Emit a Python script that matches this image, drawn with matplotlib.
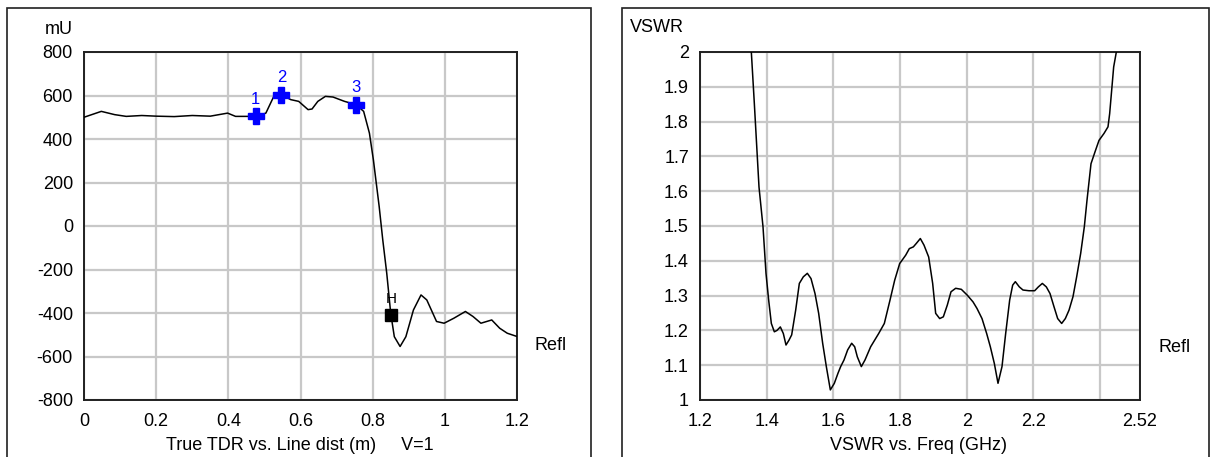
import matplotlib.pyplot as plt
import matplotlib.patches as mpatches
import numpy as np

plt.rcParams['font.family'] = ['Liberation Sans', 'DejaVu Sans']

# TDR trace (left panel)
tdr_x = [0.0, 0.048, 0.085, 0.117, 0.16, 0.2, 0.25, 0.3, 0.35, 0.398, 0.42, 0.476,
         0.504, 0.526, 0.547, 0.573, 0.595, 0.621, 0.632, 0.648, 0.669, 0.69, 0.722,
         0.754, 0.775, 0.791, 0.802, 0.818, 0.828, 0.839, 0.85, 0.86, 0.876, 0.892,
         0.913, 0.934, 0.95, 0.977, 0.998, 1.025, 1.057, 1.078, 1.1, 1.13, 1.152,
         1.173, 1.2]
tdr_y = [500, 527, 512, 504, 508, 505, 503, 508, 505, 519, 504, 504,
         519, 596, 604, 581, 573, 535, 538, 573, 596, 593, 573,
         558, 527, 427, 304, 90, -64, -217, -401, -509, -554, -509,
         -386, -317, -340, -439, -447, -424, -393, -416, -447, -432, -470,
         -493, -508]

# markers on the TDR trace
mk_labels = ['1', '2', '3']
mk_x = [0.476, 0.547, 0.754]
mk_y = [504, 604, 558]
h_x, h_y = 0.852, -409

# VSWR trace (right panel)
vswr_f = [1.354, 1.363, 1.377, 1.389, 1.398, 1.406, 1.414, 1.423, 1.431, 1.441, 1.45,
          1.458, 1.467, 1.475, 1.487, 1.498, 1.51, 1.522, 1.533, 1.545, 1.556, 1.568,
          1.579, 1.591, 1.603, 1.614, 1.622, 1.632, 1.643, 1.655, 1.664, 1.672, 1.684,
          1.695, 1.712, 1.736, 1.753, 1.77, 1.784, 1.799, 1.817, 1.828, 1.84, 1.849,
          1.861, 1.872, 1.886, 1.898, 1.907, 1.919, 1.93, 1.942, 1.953, 1.967, 1.984,
          2.002, 2.019, 2.031, 2.046, 2.06, 2.071, 2.083, 2.094, 2.106, 2.117, 2.129,
          2.138, 2.146, 2.158, 2.169, 2.187, 2.204, 2.215, 2.227, 2.239, 2.25, 2.262,
          2.273, 2.285, 2.296, 2.307, 2.319, 2.33, 2.342, 2.353, 2.361, 2.373, 2.385,
          2.397, 2.412, 2.424, 2.429, 2.435, 2.441, 2.449]
vswr = [2.0, 1.852, 1.612, 1.498, 1.364, 1.287, 1.22, 1.196, 1.2, 1.21, 1.191,
        1.158, 1.172, 1.187, 1.258, 1.335, 1.354, 1.364, 1.349, 1.306, 1.249, 1.163,
        1.096, 1.029, 1.048, 1.077, 1.096, 1.115, 1.144, 1.163, 1.153, 1.124, 1.096,
        1.115, 1.153, 1.191, 1.22, 1.287, 1.344, 1.392, 1.416, 1.435, 1.44, 1.45,
        1.464, 1.445, 1.411, 1.335, 1.249, 1.234, 1.239, 1.273, 1.311, 1.321, 1.318,
        1.301, 1.282, 1.263, 1.234, 1.191, 1.153, 1.105, 1.048, 1.096, 1.191, 1.287,
        1.33, 1.34, 1.325, 1.316, 1.314, 1.314, 1.325, 1.335, 1.325, 1.306, 1.268,
        1.234, 1.22, 1.234, 1.258, 1.297, 1.354, 1.421, 1.498, 1.574, 1.679, 1.713,
        1.746, 1.766, 1.785, 1.823, 1.89, 1.957, 2.0]

W, H = 1211, 457
fig = plt.figure(figsize=(W / 100, H / 100), dpi=100)

def px(x0, y0, x1, y1):
    # pixel box -> figure fraction [left, bottom, width, height]
    return [x0 / W, 1 - y1 / H, (x1 - x0) / W, (y1 - y0) / H]

# outer panel frames
for x0, x1 in [(7, 591), (622, 1209)]:
    r = mpatches.Rectangle((x0 / W, -0.1), (x1 - x0) / W, 1.1 - 8 / H,
                           transform=fig.transFigure, fill=False,
                           edgecolor='#202020', linewidth=1.2, clip_on=False)
    fig.add_artist(r)

grid_kw = dict(color='#c8c8c8', linewidth=1.6)
tick_kw = dict(length=0, labelsize=13)

# ---- left: TDR
ax1 = fig.add_axes(px(84, 52, 517, 400))
ax1.plot(tdr_x, tdr_y, color='black', linewidth=1.1, zorder=3)
ax1.set_xlim(0, 1.2)
ax1.set_ylim(-800, 800)
xt = [0, 0.2, 0.4, 0.6, 0.8, 1.0, 1.2]
ax1.set_xticks(xt)
ax1.set_xticklabels(['%g' % v for v in xt])
yt = list(range(-800, 801, 200))
ax1.set_yticks(yt)
ax1.set_yticklabels([str(v) for v in yt])
ax1.grid(True, **grid_kw)
ax1.tick_params(axis='x', pad=9, **tick_kw)
ax1.tick_params(axis='y', pad=8, **tick_kw)
ax1.plot(mk_x, mk_y, 'P', color='#0000ff', markersize=11, zorder=4)
for lab, x, y in zip(mk_labels, mk_x, mk_y):
    ax1.annotate(lab, (x, y), xytext=(0, 7), textcoords='offset points',
                 ha='center', va='bottom', color='#0000ff', fontsize=12)
ax1.plot([h_x], [h_y], 's', color='black', markersize=8.5, zorder=4)
ax1.annotate('H', (h_x, h_y), xytext=(0, 6.5), textcoords='offset points',
             ha='center', va='bottom', color='black', fontsize=11)

# ---- right: VSWR
ax2 = fig.add_axes(px(700, 52, 1140, 400))
ax2.plot(vswr_f, vswr, color='black', linewidth=1.1, zorder=3)
ax2.set_xlim(1.2, 2.52)
ax2.set_ylim(1, 2)
ft = [1.2, 1.4, 1.6, 1.8, 2.0, 2.2, 2.4, 2.52]
ax2.set_xticks(ft)
ax2.set_xticklabels(['%g' % v if v != 2.4 else '' for v in ft])
vt = [round(1 + 0.1 * i, 1) for i in range(11)]
ax2.set_yticks(vt)
ax2.set_yticklabels(['%g' % v for v in vt])
ax2.grid(True, **grid_kw)
ax2.tick_params(axis='x', pad=9, **tick_kw)
ax2.tick_params(axis='y', pad=8, **tick_kw)

for ax in (ax1, ax2):
    ax.set_axisbelow(True)
    for s in ax.spines.values():
        s.set_linewidth(1.4)
        s.set_color('#202020')

def ftext(x, y, s, **kw):
    fig.text(x / W, 1 - y / H, s, fontsize=13, **kw)

ftext(59, 29, 'mU', ha='center', va='center')
ftext(630, 28, 'VSWR', ha='left', va='center')
ftext(534, 346, 'Refl', ha='left', va='center')
ftext(1158, 348, 'Refl', ha='left', va='center')
ftext(300, 446, 'True TDR vs. Line dist (m)     V=1', ha='center', va='center')
ftext(919, 446, 'VSWR vs. Freq (GHz)', ha='center', va='center')

fig.savefig('out.png', dpi=100)
